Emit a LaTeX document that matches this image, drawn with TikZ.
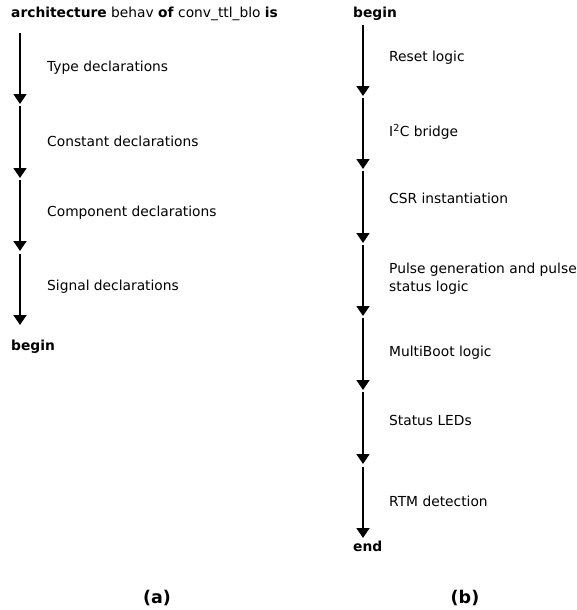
\documentclass[tikz,border=0pt]{standalone}
\usepackage{fontspec}
\setmainfont{DejaVu Sans}
\usetikzlibrary{arrows.meta}
\tikzset{
  flow/.style={line width=1.5pt, -{Triangle[width=13pt,length=10pt]}},
  lbl/.style={anchor=west, inner sep=0pt, font=\fontsize{13.8}{18}\selectfont, align=left},
  kw/.style={anchor=west, inner sep=0pt, font=\fontsize{13.8}{18}\selectfont},
  subcap/.style={inner sep=0pt, font=\fontsize{17.5}{20}\selectfont\bfseries}
}
\begin{document}
\begin{tikzpicture}[x=1pt,y=-1pt]
\useasboundingbox (0,0) rectangle (577,610);
% (a)
\node[kw] (ahead) at (11,14) {\textbf{architecture} behav \textbf{of} conv\_ttl\_blo \textbf{is}};
\coordinate (a0) at (20,33);
\coordinate (a1) at (20,104);
\coordinate (a1s) at (20,106);
\coordinate (a2) at (20,178);
\coordinate (a2s) at (20,180);
\coordinate (a3) at (20,251);
\coordinate (a3s) at (20,254);
\coordinate (a4) at (20,325);
\draw[flow] (a0) -- (a1);
\draw[flow] (a1s) -- (a2);
\draw[flow] (a2s) -- (a3);
\draw[flow] (a3s) -- (a4);
\node[lbl] (t1) at (47,68) {Type declarations};
\node[lbl] (t2) at (47,141) {Constant declarations};
\node[lbl] (t3) at (47,213) {Component declarations};
\node[lbl] (t4) at (47,287) {Signal declarations};
\node[kw] (abegin) at (11,347) {\textbf{begin}};
\node[subcap] (capa) at (157,598) {(a)};
% (b)
\node[kw] (bbegin) at (353,14) {\textbf{begin}};
\coordinate (b0) at (363,25);
\coordinate (b1) at (363,96);
\coordinate (b1s) at (363,98);
\coordinate (b2) at (363,169);
\coordinate (b2s) at (363,171);
\coordinate (b3) at (363,243);
\coordinate (b3s) at (363,245);
\coordinate (b4) at (363,316);
\coordinate (b4s) at (363,318);
\coordinate (b5) at (363,390);
\coordinate (b5s) at (363,392);
\coordinate (b6) at (363,464);
\coordinate (b6s) at (363,467);
\coordinate (b7) at (363,538);
\draw[flow] (b0) -- (b1);
\draw[flow] (b1s) -- (b2);
\draw[flow] (b2s) -- (b3);
\draw[flow] (b3s) -- (b4);
\draw[flow] (b4s) -- (b5);
\draw[flow] (b5s) -- (b6);
\draw[flow] (b6s) -- (b7);
\node[lbl] (r1) at (389,58) {Reset logic};
\node[lbl] (r2) at (389,132) {I\textsuperscript{2}C bridge};
\node[lbl] (r3) at (389,198) {CSR instantiation};
\node[lbl] (r4) at (389,279) {Pulse generation and pulse\\status logic};
\node[lbl] (r5) at (389,353) {MultiBoot logic};
\node[lbl] (r6) at (389,420) {Status LEDs};
\node[lbl] (r7) at (389,501) {RTM detection};
\node[kw] (bend) at (353,546) {\textbf{end}};
\node[subcap] (capb) at (465,598) {(b)};
\end{tikzpicture}
\end{document}
